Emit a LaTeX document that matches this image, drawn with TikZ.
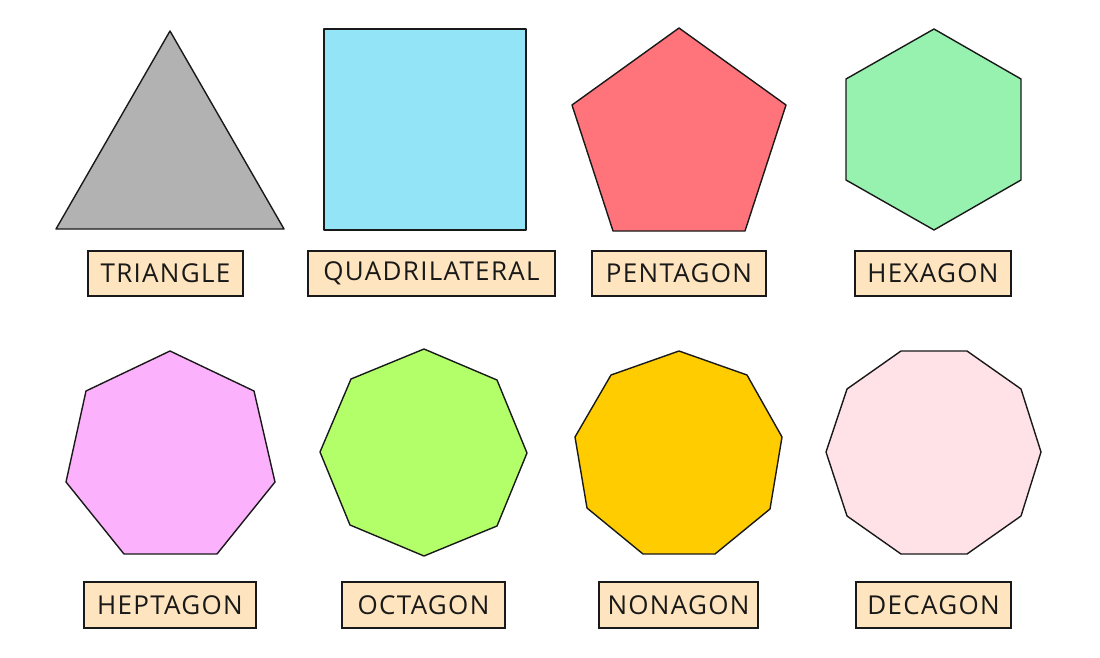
\documentclass[tikz,border=0pt]{standalone}
\usepackage{fontspec}
\setmainfont{Open Sans}[LetterSpace=5]
\begin{document}
\begin{tikzpicture}[x=1pt,y=-1pt,
  shp/.style={draw=black!90, line width=1.4pt, line join=round},
  lbl/.style={draw=black!90, line width=1.2pt, fill=labelfill, inner sep=0pt, font=\fontsize{26}{26}\selectfont, text=black!90}]
\definecolor{labelfill}{HTML}{FFE5BF}
\definecolor{cTri}{HTML}{B2B2B2}
\definecolor{cQuad}{HTML}{94E4F8}
\definecolor{cPent}{HTML}{FF737B}
\definecolor{cHex}{HTML}{96F2AE}
\definecolor{cHept}{HTML}{FBB1FB}
\definecolor{cOct}{HTML}{B2FF6A}
\definecolor{cNon}{HTML}{FFCC00}
\definecolor{cDec}{HTML}{FFE2E8}
\useasboundingbox (0,0) rectangle (1100,658);
% shapes
\draw[shp, fill=cTri] (170,31) -- (284,229) -- (56,229) -- cycle;
\draw[shp, fill=cQuad] (324,29) rectangle (526,230);
\draw[shp, fill=cPent] (679,28) -- (786,105) -- (745,231) -- (613,231) -- (572,105) -- cycle;
\draw[shp, fill=cHex] (934,29) -- (1021,79) -- (1021,180) -- (934,230) -- (846,180) -- (846,79) -- cycle;
\draw[shp, fill=cHept] (170,351) -- (254,391) -- (275,482) -- (217,554) -- (124,554) -- (66,482) -- (86,391) -- cycle;
\draw[shp, fill=cOct] (424,349) -- (497,380) -- (527,453) -- (497,526) -- (424,556) -- (350,525) -- (320,452) -- (351,379) -- cycle;
\draw[shp, fill=cNon] (679,351) -- (747,375) -- (782,437) -- (770,509) -- (715,554) -- (643,554) -- (587,508) -- (575,437) -- (611,375) -- cycle;
\draw[shp, fill=cDec] (901,351) -- (967,351) -- (1021,389) -- (1041,452) -- (1021,516) -- (967,554) -- (901,554) -- (847,516) -- (826,452) -- (847,389) -- cycle;
% labels
\node[lbl, minimum width=155pt, minimum height=45pt] (l1) at (165.5,273.5) {TRIANGLE};
\node[lbl, minimum width=247pt, minimum height=45pt] (l2) at (431.5,273.5) {QUADRILATERAL};
\node[lbl, minimum width=174pt, minimum height=45pt] (l3) at (679,273.5) {PENTAGON};
\node[lbl, minimum width=156pt, minimum height=45pt] (l4) at (933,273.5) {HEXAGON};
\node[lbl, minimum width=172pt, minimum height=46pt] (l5) at (170,605) {HEPTAGON};
\node[lbl, minimum width=163pt, minimum height=46pt] (l6) at (423.5,605) {OCTAGON};
\node[lbl, minimum width=159pt, minimum height=46pt] (l7) at (678.5,605) {NONAGON};
\node[lbl, minimum width=155pt, minimum height=46pt] (l8) at (933.5,605) {DECAGON};
\end{tikzpicture}
\end{document}
